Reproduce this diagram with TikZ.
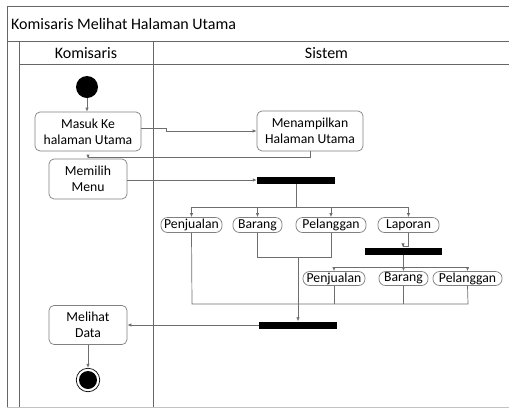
\documentclass[tikz,border=0pt]{standalone}
\usepackage{fontspec}
\setmainfont{Carlito}
\usetikzlibrary{arrows.meta}
\definecolor{framec}{HTML}{666666}
\definecolor{linec}{HTML}{6E6E6E}
\definecolor{boxc}{HTML}{808080}
\begin{document}
\begin{tikzpicture}[x=1pt,y=-1pt,
  frameline/.style={draw=framec,line width=0.9pt},
  actbox/.style={draw=boxc,fill=white,rounded corners=5pt,line width=0.7pt,align=center,inner sep=0pt,font=\fontsize{13.7}{16}\selectfont},
  pill/.style={draw=boxc,fill=white,rounded corners=6.5pt,line width=0.7pt,inner sep=0pt,minimum height=15pt,font=\fontsize{13.7}{16}\selectfont},
  forkbar/.style={fill=black,draw=none,inner sep=0pt,minimum height=7pt},
  conn/.style={draw=linec,line width=0.7pt},
  arr/.style={conn,-{Latex[length=4pt,width=3.5pt]}},
  hdr/.style={font=\fontsize{16}{18}\selectfont,inner sep=0pt}
]
\useasboundingbox (0,0) rectangle (509,408);
% frame
\draw[frameline] (515,6) -- (7,6) -- (7,407);
\draw[frameline] (7,41) -- (515,41);
\draw[frameline] (19,41) -- (19,407);
\draw[frameline] (19,64) -- (515,64);
\draw[frameline] (153,41) -- (153,407);
\draw[draw=framec!40,line width=0.6pt] (7,407) -- (515,407);
\node[hdr,anchor=west] (title) at (11,24) {Komisaris Melihat Halaman Utama};
\node[hdr] (lane1) at (86,53) {Komisaris};
\node[hdr] (lane2) at (326.5,53) {Sistem};
% nodes
\node[circle,fill=black,minimum size=22pt,inner sep=0pt] (start) at (87,87) {};
\node[actbox,minimum width=106pt,minimum height=39pt] (masuk) at (88,131.5) {Masuk Ke\\halaman Utama};
\node[actbox,minimum width=106pt,minimum height=40pt] (tampil) at (310,131) {Menampilkan\\Halaman Utama};
\node[actbox,minimum width=78pt,minimum height=40pt] (memilih) at (88,179) {Memilih\\Menu};
\node[forkbar,minimum width=78pt] (bar1) at (296,180) {};
\node[pill,minimum width=61pt] (pen1) at (191.5,225) {Penjualan};
\node[pill,minimum width=49pt] (brg1) at (257.5,225) {Barang};
\node[pill,minimum width=70pt] (pel1) at (331,225) {Pelanggan};
\node[pill,minimum width=61pt] (lap) at (408.5,225) {Laporan};
\node[forkbar,minimum width=77pt] (bar2) at (403,251) {};
\node[pill,minimum width=62pt,minimum height=14pt] (pen2) at (334,278.5) {Penjualan};
\node[pill,minimum width=49pt,minimum height=14pt] (brg2) at (403.5,278.5) {Barang};
\node[pill,minimum width=69pt,minimum height=14pt] (pel2) at (467.5,278.5) {Pelanggan};
\node[forkbar,minimum width=78pt] (bar3) at (298,325) {};
\node[actbox,minimum width=78pt,minimum height=39pt] (melihat) at (88,325) {Melihat\\Data};
\node[circle,draw=black,line width=0.7pt,minimum size=23.5pt,inner sep=0pt] (end) at (88,380) {};
\node[circle,fill=black,minimum size=18pt,inner sep=0pt] (endin) at (end.center) {};
% coordinates
\coordinate (f1) at (296,207);
\coordinate (f2) at (403,267);
\coordinate (j1) at (298,257);
\coordinate (m1) at (192,304);
\coordinate (m2) at (468,304);
% connectors
\draw[arr] (start.south) -- (start.south |- masuk.north);
\draw[arr] ([yshift=3.5pt]masuk.east) -- ++(25,0) |- (tampil.west);
\draw[arr] (tampil.south) -- ++(0,6) -| (memilih.north);
\draw[arr] (memilih.east |- bar1.west) -- (bar1.west);
\draw[conn] (bar1.south) -- (f1);
\draw[arr] (f1) -| (pen1.north);
\draw[arr] (f1) -| (brg1.north);
\draw[arr] (f1) -| (pel1.north);
\draw[arr] (f1) -| (lap.north);
\draw[arr] (lap.south) -- ++(0,13.5) -| (bar2.north);
\draw[conn] (bar2.south) -- (f2);
\draw[arr] (f2) -| (pen2.north);
\draw[arr] (f2) -| (brg2.north);
\draw[arr] (f2) -| (pel2.north);
\draw[conn] (brg1.south) |- (pel1.south |- j1) -- (pel1.south);
\draw[arr] (j1) -- (bar3.north);
\draw[conn] (pen1.south) -- (m1) -- (m2) -- (pel2.south);
\draw[conn] (pen2.south) -- (pen2.south |- m1);
\draw[conn] (brg2.south) -- (brg2.south |- m1);
\draw[arr] (bar3.west) -- (melihat.east |- bar3.west);
\draw[arr] (melihat.south) -- (end.north);
\end{tikzpicture}
\end{document}
